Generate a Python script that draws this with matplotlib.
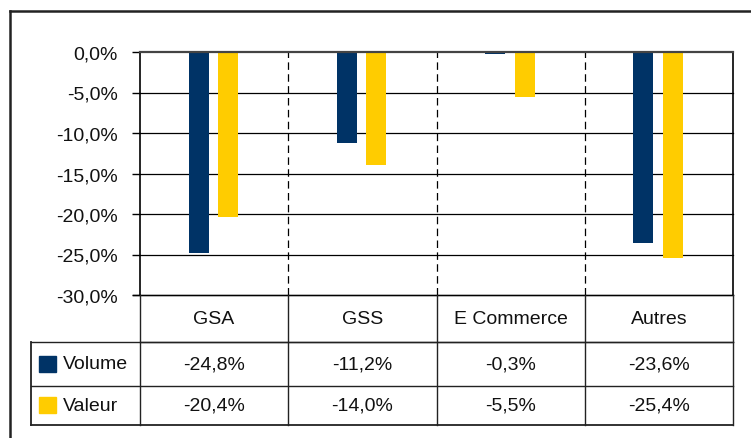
import matplotlib
matplotlib.use("Agg")
import matplotlib.pyplot as plt
import numpy as np

categories = ["GSA", "GSS", "E Commerce", "Autres"]
series_names = ["Volume", "Valeur"]
volume = [-24.8, -11.2, -0.3, -23.6]
valeur = [-20.4, -14.0, -5.5, -25.4]
y_ticks = [0, -5, -10, -15, -20, -25, -30]

colors = ["#003366", "#FFCC00"]
FONT = "Liberation Sans"
FS = 14

W, H = 751, 439
fig = plt.figure(figsize=(W / 100, H / 100), dpi=100)

# layout in pixels
px_left, px_right, px_top, px_bottom = 140, 733, 53, 296
ax = fig.add_axes([px_left / W, 1 - px_bottom / H,
                   (px_right - px_left) / W, (px_bottom - px_top) / H])

x = np.arange(len(categories))
bw = 0.135
ax.bar(x - 0.105, volume, bw, color=colors[0], zorder=3)
ax.bar(x + 0.095, valeur, bw, color=colors[1], zorder=3)

ax.set_xlim(-0.5, len(categories) - 0.5)
ax.set_ylim(-30, 0)
ax.set_yticks(y_ticks)
ax.set_yticklabels([f"{v:.1f}%".replace(".", ",") for v in y_ticks],
                   fontsize=FS, fontfamily=FONT, color="#111111")
ax.tick_params(axis="y", length=6, width=1, color="black", pad=10)
ax.set_xticks([])
for v in y_ticks[1:]:
    ax.axhline(v, color="black", lw=0.9, zorder=1, clip_on=False)
ax.axhline(0, color="#444444", lw=1.6, zorder=4, clip_on=False)
for b in np.arange(0.5, len(categories) - 0.5, 1.0):
    ax.axvline(b, color="black", lw=0.9, linestyle=(0, (6, 3.5)), zorder=1)
for s in ["top", "bottom"]:
    ax.spines[s].set_visible(False)
ax.spines["left"].set_linewidth(1.2)
ax.spines["right"].set_linewidth(1.2)

# overlay for table and frame
ov = fig.add_axes([0, 0, 1, 1], zorder=5)
ov.set_xlim(0, W)
ov.set_ylim(H, 0)
ov.axis("off")
ov.patch.set_alpha(0)

col_w = (px_right - px_left) / len(categories)
bounds = [px_left + i * col_w for i in range(len(categories) + 1)]
tbl_left = 31
row_header = (px_bottom, 343)
row_vol = (343, 387)
row_val = (387, 426)
lc = "#222222"
lw = 1.0
# horizontal lines
ov.plot([px_left - 7, px_right], [px_bottom] * 2, color="black", lw=1.0)
ov.plot([px_left, px_right], [row_header[1]] * 2, color=lc, lw=lw)
ov.plot([tbl_left, px_right], [row_vol[0]] * 2, color=lc, lw=lw)
ov.plot([tbl_left, px_right], [row_val[0]] * 2, color=lc, lw=lw)
ov.plot([tbl_left, px_right], [row_val[1]] * 2, color=lc, lw=1.3)
# vertical lines
for b in bounds:
    ov.plot([b, b], [px_bottom, row_val[1]], color=lc, lw=lw)
ov.plot([tbl_left, tbl_left], [row_vol[0], row_val[1]], color=lc, lw=1.3)

for i, c in enumerate(categories):
    cx = (bounds[i] + bounds[i + 1]) / 2
    ov.text(cx, sum(row_header) / 2, c, ha="center", va="center",
            fontsize=FS, fontfamily=FONT, color="#111111")
    ov.text(cx, sum(row_vol) / 2, f"{volume[i]:.1f}%".replace(".", ","),
            ha="center", va="center", fontsize=FS, fontfamily=FONT, color="#111111")
    ov.text(cx, sum(row_val) / 2, f"{valeur[i]:.1f}%".replace(".", ","),
            ha="center", va="center", fontsize=FS, fontfamily=FONT, color="#111111")

for name, col, row in zip(series_names, colors, [row_vol, row_val]):
    cy = sum(row) / 2
    ov.add_patch(plt.Rectangle((39, cy - 8), 17, 16, color=col))
    ov.text(63, cy, name, ha="left", va="center", fontsize=FS,
            fontfamily=FONT, color="#111111")

# outer frame
ov.plot([10, W], [12, 12], color="#222222", lw=1.8)
ov.plot([10, 10], [12, H], color="#222222", lw=1.8)

fig.savefig("out.png", dpi=100)
